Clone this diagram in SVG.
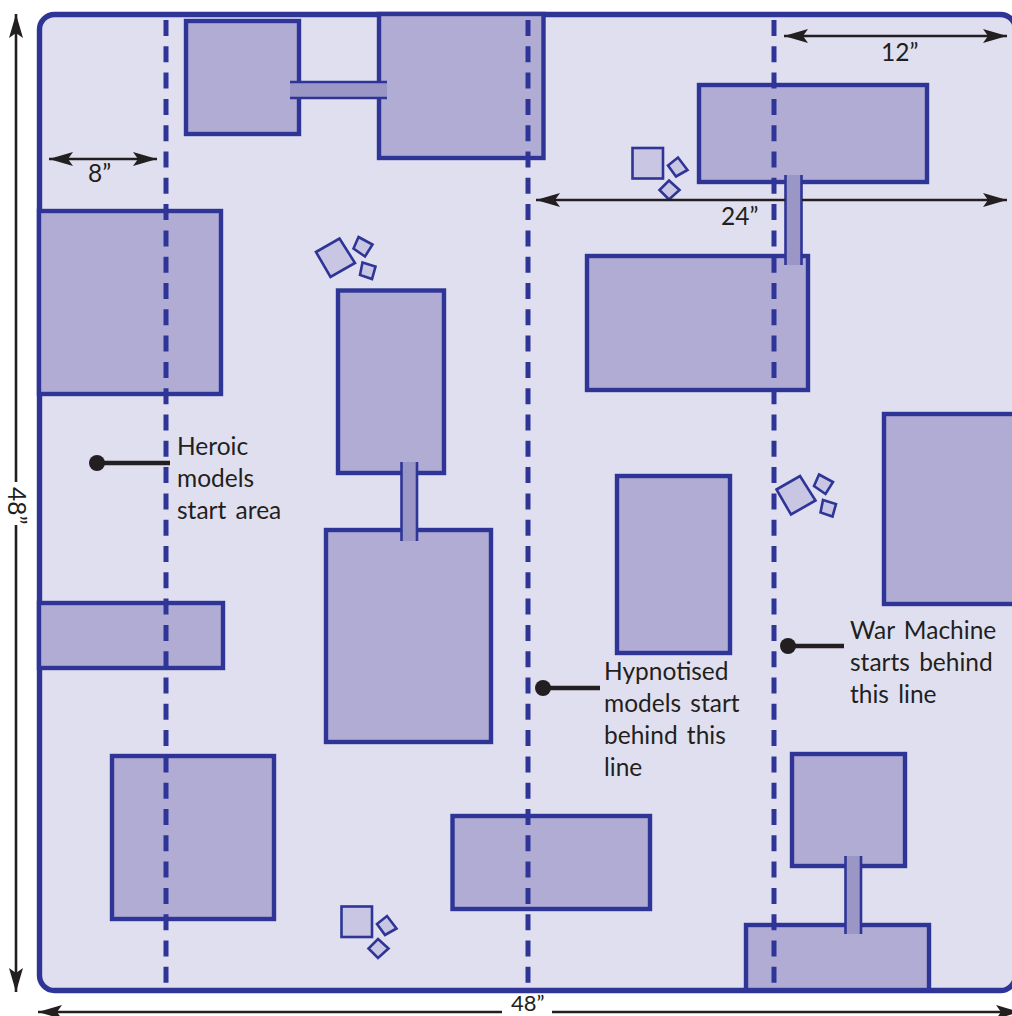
<svg xmlns="http://www.w3.org/2000/svg" width="1012" height="1016" viewBox="0 0 1012 1016">
<style>
.b{fill:#b0acd4;stroke:#2e3597;stroke-width:4.4}
.s{fill:#c8c6e2;stroke:#2e3597;stroke-width:2.6}
.bf{fill:#9a97c6}
.be{stroke:#2e3597;stroke-width:2.6;fill:none}
.d{stroke:#2e3597;stroke-width:5;stroke-dasharray:16 10.3;fill:none}
.a{stroke:#231f20;stroke-width:2.6;fill:none}
.l{stroke:#231f20;stroke-width:4.5;fill:none}
.t{font-family:"Lato","Liberation Sans",sans-serif;font-size:24.5px;word-spacing:3px;fill:#231f20}
.t2{font-size:22px}
</style>
<defs>
<marker id="h" markerUnits="userSpaceOnUse" markerWidth="26" markerHeight="16" refX="24" refY="8" orient="auto-start-reverse"><path d="M24,8L0,1L5,8L0,15Z" fill="#231f20"/></marker>
<g id="r1"><polygon class="s" points="316,252 339.500,238.500 355,263 330.500,277"/><polygon class="s" points="358.500,237 372.500,244.500 365,256.500 353.500,248.500"/><polygon class="s" points="362.500,262.500 375.500,266.500 372,279 360,275"/></g>
<g id="r2"><rect class="s" x="632.500" y="148" width="30.500" height="30.500"/><polygon class="s" points="668,165.500 678,157.500 687.500,170 676,176.500"/><polygon class="s" points="669,180.500 679.500,190 669,199.500 659.500,190"/></g>
</defs>
<rect id="board" x="39.500" y="14.500" width="976" height="976" rx="15" fill="#e0dfef" stroke="#2e3597" stroke-width="5.4"/>
<g id="node-1"><rect class="b" x="186" y="21" width="113" height="113"/></g>
<g id="node-2"><rect class="b" x="379" y="14" width="164.500" height="144"/></g>
<g id="node-3"><rect class="b" x="39" y="211" width="182" height="183"/></g>
<g id="node-4"><rect class="b" x="338" y="290.500" width="106" height="182.500"/></g>
<g id="node-5"><rect class="b" x="326" y="530" width="165" height="212"/></g>
<g id="node-6"><rect class="b" x="39" y="603" width="184" height="65"/></g>
<g id="node-7"><rect class="b" x="112" y="756" width="162" height="163"/></g>
<g id="node-8"><rect class="b" x="452.500" y="816" width="197.500" height="93"/></g>
<g id="node-9"><rect class="b" x="699" y="85" width="228" height="97"/></g>
<g id="node-10"><rect class="b" x="587" y="256" width="221" height="134"/></g>
<g id="node-11"><rect class="b" x="617" y="476" width="113" height="177"/></g>
<g id="node-12"><rect class="b" x="884" y="414" width="140" height="190"/></g>
<g id="node-13"><rect class="b" x="792" y="754" width="113" height="112"/></g>
<g id="node-14"><rect class="b" x="746" y="925" width="183" height="65"/></g>
<g id="rubble-1"><use href="#r1"/></g>
<g id="rubble-2"><use href="#r1" transform="translate(460.500 237.500)"/></g>
<g id="rubble-3"><use href="#r2"/></g>
<g id="rubble-4"><use href="#r2" transform="translate(-291 758.500)"/></g>
<g id="connectors">
<path class="d" d="M166 20V986M528 20V986M774 20V986"/>
<rect class="bf" x="290" y="81" width="97" height="18"/><path class="be" d="M290 82H387M290 98H387"/>
<rect class="bf" x="785" y="175" width="17" height="90"/><path class="be" d="M785.500 175V265M801.500 175V265"/>
<rect class="bf" x="401" y="462" width="17" height="79"/><path class="be" d="M401.500 462V541M417 462V541"/>
<rect class="bf" x="845" y="856" width="17" height="78"/><path class="be" d="M845.500 856V934M861 856V934"/>
<path class="a" marker-start="url(#h)" marker-end="url(#h)" d="M49 159H157"/>
<path class="a" marker-start="url(#h)" marker-end="url(#h)" d="M784 36H1007"/>
<path class="a" marker-start="url(#h)" d="M536 200H785"/>
<path class="a" marker-end="url(#h)" d="M802 200H1007"/>
<path class="a" marker-start="url(#h)" d="M16 14V482"/>
<path class="a" marker-end="url(#h)" d="M16 525V992"/>
<path class="a" marker-start="url(#h)" d="M38 1012H502"/>
<path class="a" marker-end="url(#h)" d="M552 1012H1020"/>
<path class="l" d="M97 463H170M543 688H600M788 646H844"/>
<circle cx="97" cy="463" r="8" fill="#231f20"/><circle cx="543" cy="688" r="8" fill="#231f20"/><circle cx="788" cy="646" r="8" fill="#231f20"/>
</g>
<g id="labels">
<text class="t" x="88" y="182">8”</text>
<text class="t" x="881" y="61">12”</text>
<text class="t" x="721" y="225">24”</text>
<text class="t t2" x="511" y="1011">48”</text>
<text class="t" transform="translate(8 487) rotate(90)">48”</text>
<text class="t" x="177" y="455">Heroic</text><text class="t" x="177" y="487">models</text><text class="t" x="177" y="519">start area</text>
<text class="t" x="604" y="680">Hypnotised</text><text class="t" x="604" y="712">models start</text><text class="t" x="604" y="744">behind this</text><text class="t" x="604" y="776">line</text>
<text class="t" x="850" y="639">War Machine</text><text class="t" x="850" y="671">starts behind</text><text class="t" x="850" y="703">this line</text>
</g>
</svg>
